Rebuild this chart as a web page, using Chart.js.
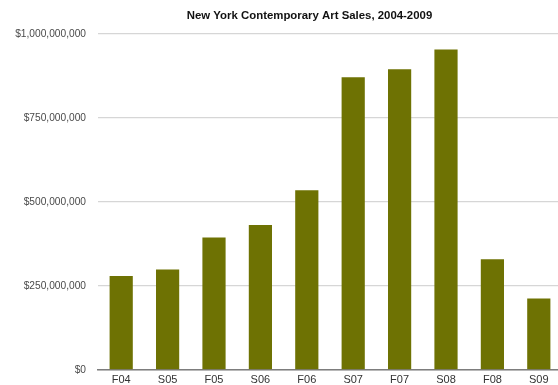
<!DOCTYPE html>
<html>
<head>
<meta charset="utf-8">
<script src="https://cdn.jsdelivr.net/npm/chart.js@4/dist/chart.umd.min.js"></script>
<style>
    html, body { margin: 0; padding: 0; background: #fff; overflow: hidden; }
    #wrap { width: 564px; height: 385px; overflow: hidden; }
</style>
</head>
<body>
<div id="wrap"><canvas id="salesChart" width="564" height="391"></canvas></div>
<script>
const seasons = ['F04', 'S05', 'F05', 'S06', 'F06', 'S07', 'F07', 'S08', 'F08', 'S09'];
const sales = [279000000, 299000000, 394000000, 431000000, 535000000, 871000000, 895000000, 954000000, 329000000, 212000000];
const yTicks = [0, 250000000, 500000000, 750000000, 1000000000];
const chartTitle = 'New York Contemporary Art Sales, 2004-2009';

const font = "'Liberation Sans', Arial, Helvetica, sans-serif";

// title sits a bit left of the plot centre, so draw it ourselves
const titlePlugin = {
    id: 'titleText',
    afterDraw(chart) {
        const c = chart.ctx;
        c.save();
        c.font = 'bold 11.4px ' + font;
        c.fillStyle = '#111';
        c.textAlign = 'center';
        c.textBaseline = 'middle';
        c.fillText(chartTitle, 309.5, 16);
        c.restore();
    }
};

const fmt = v => '$' + v.toLocaleString('en-US');

new Chart(document.getElementById('salesChart').getContext('2d'), {
    type: 'bar',
    data: {
        labels: seasons,
        datasets: [{
            data: sales,
            backgroundColor: '#6e7203',
            borderWidth: 0,
            barPercentage: 1,
            categoryPercentage: 0.5
        }]
    },
    options: {
        responsive: false,
        animation: false,
        layout: { padding: { top: 34, right: 2, left: 0, bottom: 0 } },
        plugins: {
            legend: { display: false },
            tooltip: { enabled: false },
            title: { display: false }
        },
        scales: {
            x: {
                grid: { display: false, drawTicks: false },
                border: { display: true, color: '#7d7d7d', width: 1.5 },
                ticks: {
                    color: '#333',
                    padding: 4,
                    font: { family: font, size: 11 },
                    maxRotation: 0
                }
            },
            y: {
                min: 0,
                max: 1000000000,
                afterBuildTicks(axis) {
                    axis.ticks = yTicks.map(v => ({ value: v }));
                },
                afterFit(axis) { axis.width = 98; },
                grid: { color: '#d6d6d6', lineWidth: 1.2, drawTicks: false },
                border: { display: false },
                ticks: {
                    color: '#4a4a4a',
                    padding: 12,
                    font: { family: font, size: 10.2 },
                    callback: v => fmt(v)
                }
            }
        }
    },
    plugins: [titlePlugin]
});
</script>
</body>
</html>
